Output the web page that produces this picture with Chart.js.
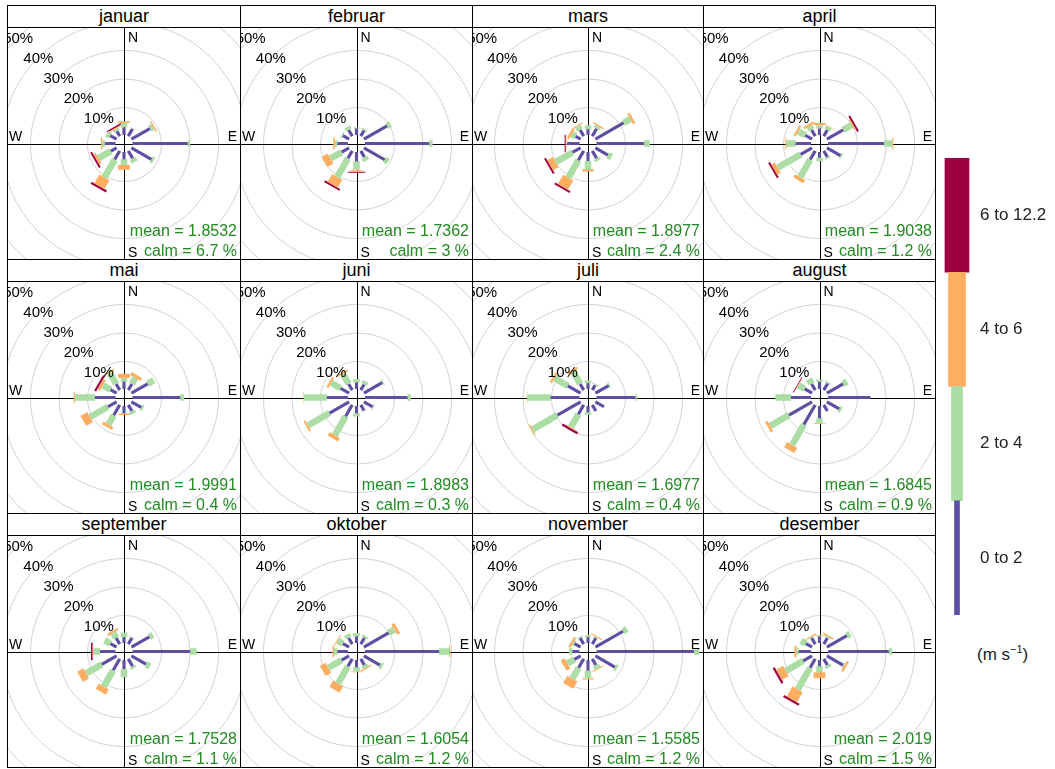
<!DOCTYPE html>
<html>
<head>
<meta charset="utf-8">
<script src="https://cdn.jsdelivr.net/npm/chart.js@4.4.1/dist/chart.umd.min.js"></script>
<style>
  body { margin: 0; background: #fff; font-family: "Liberation Sans", Arial, sans-serif; }
  #page { position: relative; width: 1055px; height: 769px; overflow: hidden; }
  .panel { position: absolute; box-sizing: border-box; border: 1px solid #000; }
  .strip { position: absolute; left: 0; right: 0; top: 0; height: 21px; border-bottom: 1px solid #000;
           text-align: center; font-size: 18px; line-height: 21px; color: #000; }
  .panel canvas { position: absolute; left: 0; top: 22px; }
  #key { position: absolute; left: 940px; top: 158px; }
  #unit { position: absolute; left: 977px; top: 643px; font-size: 17px; color: #222; }
</style>
</head>
<body>
<div id="page"></div>
<script>
// months shown in the panels
const months = ['januar', 'februar', 'mars', 'april', 'mai', 'juni',
                'juli', 'august', 'september', 'oktober', 'november', 'desember'];
// wind direction bins (degrees)
const directions = [0, 30, 60, 90, 120, 150, 180, 210, 240, 270, 300, 330];
// wind speed intervals (m/s)
const speedBins = ['0 to 2', '2 to 4', '4 to 6', '6 to 12.2'];
const binColours = ['#5e4fa2', '#abdda4', '#fdae61', '#9e0142'];
// frequency rings (%)
const ringLevels = [10, 20, 30, 40, 50];
const meanSpeed = ['1.8532', '1.7362', '1.8977', '1.9038', '1.9991', '1.8983',
                   '1.6977', '1.6845', '1.7528', '1.6054', '1.5585', '2.019'];
const calmPct = ['6.7', '3', '2.4', '1.2', '0.4', '0.3', '0.4', '0.9', '1.1', '1.2', '1.2', '1.5'];

// cumulative frequency (%) per direction, stacked over the speed bins
const januar = [[2.6,4.2,4.8,4.8],[2.9,3.1,3.1,3.1],[7.5,8.7,9.2,9.2],[19.4,20.2,20.2,20.2],
  [8.1,9.0,9.0,9.0],[3.0,4.5,4.5,4.5],[2.5,4.5,6.2,6.2],[3.5,10.7,14.3,15.1],
  [2.3,7.3,8.2,8.9],[3.7,4.6,5.1,5.1],[2.6,3.9,3.9,3.9],[2.0,2.8,3.2,3.8]];
const februar = [[2.3,2.6,2.6,2.6],[2.3,2.8,2.8,2.8],[9.4,10.8,10.8,10.8],[22.5,23.7,23.7,23.7],
  [8.4,9.8,9.8,9.8],[2.5,3.9,3.9,3.9],[3.3,6.4,6.9,7.3],[3.0,10.5,13.7,14.4],
  [3.0,7.5,10.0,10.0],[3.7,4.6,5.2,5.2],[2.5,3.0,3.0,3.0],[2.5,3.6,3.6,3.6]];
const mars = [[2.0,3.4,3.4,3.4],[3.0,4.0,4.5,4.5],[11.4,14.1,15.0,15.0],[16.7,18.7,18.7,18.7],
  [5.1,6.5,6.5,6.5],[3.0,3.9,3.9,3.9],[3.1,6.0,6.8,6.8],[3.8,10.8,14.6,15.3],
  [3.3,10.1,12.3,13.0],[4.3,4.5,4.8,5.2],[2.0,3.5,4.4,4.4],[2.5,4.0,4.4,4.4]];
const april = [[2.3,3.5,4.2,4.2],[2.5,3.7,3.9,3.9],[6.6,10.0,10.5,11.2],[19.6,22.5,22.9,22.9],
  [5.5,6.0,6.0,6.0],[2.5,3.0,3.0,3.0],[2.0,3.2,3.2,3.2],[3.5,10.6,11.9,11.9],
  [4.6,13.9,15.3,16.0],[5.4,8.6,9.0,9.0],[2.8,5.5,6.3,6.3],[2.5,4.0,4.8,4.8]];
const mai = [[2.5,3.8,5.3,5.3],[2.5,4.9,6.1,6.1],[6.6,9.1,9.1,9.1],[16.7,18.1,18.1,18.1],
  [4.0,4.7,4.7,4.7],[2.5,3.5,3.5,3.5],[2.5,2.7,3.1,3.1],[4.2,7.9,9.0,9.0],
  [3.5,10.7,13.5,13.5],[7.2,14.2,14.6,14.6],[2.5,5.5,6.5,7.3],[2.5,7.0,7.5,7.5]];
const juni = [[2.3,3.5,3.5,3.5],[2.3,3.5,3.5,3.5],[7.4,7.9,7.9,7.9],[14.9,16.1,16.1,16.1],
  [3.5,3.9,3.9,3.9],[2.3,2.5,2.5,2.5],[2.5,3.7,3.7,3.7],[4.6,12.2,13.6,13.6],
  [7.9,16.6,17.3,17.3],[7.4,15.4,15.6,15.6],[3.5,7.2,8.0,8.0],[2.5,6.5,7.2,7.2]];
const juli = [[2.0,3.0,3.0,3.0],[2.0,2.4,2.4,2.4],[5.4,5.8,5.8,5.8],[13.7,14.3,14.3,14.3],
  [3.5,3.5,3.5,3.5],[2.5,2.5,2.5,2.5],[2.2,3.1,3.1,3.1],[3.8,9.0,9.3,10.1],
  [9.4,19.4,19.9,19.9],[10.1,18.3,18.5,18.5],[5.2,10.5,11.3,11.3],[2.5,7.5,8.3,8.3]];
const august = [[2.5,3.3,3.3,3.3],[2.7,3.2,3.2,3.2],[6.6,8.1,8.1,8.1],[14.9,14.9,14.9,14.9],
  [5.0,5.8,5.8,5.8],[2.5,2.5,2.5,2.5],[4.3,6.0,6.3,6.3],[8.0,16.2,18.3,18.3],
  [9.4,16.9,17.9,17.9],[7.0,12.5,12.5,12.5],[3.0,5.5,5.7,6.0],[2.5,4.5,4.5,4.5]];
const september = [[2.0,3.6,3.6,3.6],[2.5,2.8,2.8,2.8],[7.3,8.7,8.7,8.7],[20.2,22.5,22.5,22.5],
  [5.9,7.5,7.5,7.5],[3.0,3.8,3.8,3.8],[3.1,6.0,6.0,6.0],[4.6,11.2,13.3,13.3],
  [6.0,12.3,14.8,14.8],[5.4,7.8,8.0,8.6],[2.5,4.8,4.8,4.8],[2.5,4.5,5.3,5.3]];
const oktober = [[2.3,3.5,3.5,3.5],[2.5,3.3,3.3,3.3],[10.0,12.3,13.5,13.5],[26.0,29.5,29.9,29.9],
  [6.5,7.5,7.5,7.5],[2.5,3.5,4.0,4.0],[2.5,4.0,4.3,4.3],[3.0,9.9,12.5,12.5],
  [3.0,8.4,10.7,10.7],[3.7,4.9,5.4,5.4],[2.5,4.5,4.9,4.9],[2.5,3.8,3.8,3.8]];
const november = [[2.0,2.7,2.7,2.7],[2.5,2.8,3.2,3.2],[11.2,12.8,12.8,12.8],[34.2,36.0,36.0,36.0],
  [7.9,8.8,8.8,8.8],[2.5,3.8,4.2,4.2],[3.7,6.4,6.8,6.8],[3.6,8.0,10.9,10.9],
  [2.5,5.3,6.9,6.9],[2.5,3.7,3.9,3.9],[2.5,3.0,3.8,3.8],[2.5,2.9,2.9,2.9]];
const desember = [[2.3,2.6,2.9,2.9],[2.5,3.0,3.5,3.5],[8.1,9.4,9.4,9.4],[21.3,22.5,22.5,22.5],
  [6.5,7.0,7.8,7.8],[2.5,3.5,3.5,3.5],[2.2,4.3,6.4,6.4],[3.6,12.3,16.4,17.2],
  [3.6,10.6,13.4,14.2],[4.3,5.1,5.8,5.8],[2.5,4.5,4.5,4.5],[2.5,2.8,3.2,3.2]];

const roses = [januar, februar, mars, april, mai, juni, juli, august, september, oktober, november, desember];

// layout
const OFFSET = 3;            // empty centre, in % units
const PX_PER_UNIT = 2.85;
const paddleHalf = [0.55, 1.15, 2.05, 3.1];
const colLeft = [7, 240, 472, 703, 935];
const rowTop = [5, 259, 513, 767];
const FONT = '"Liberation Sans", Arial, sans-serif';

function paddle(dir, r0, r1, hw) {
  const t = dir * Math.PI / 180, s = Math.sin(t), c = Math.cos(t);
  const a = r0 + OFFSET, b = r1 + OFFSET;
  const p1 = {x: a * s - hw * c, y: a * c + hw * s};
  return [
    p1,
    {x: a * s + hw * c, y: a * c - hw * s},
    {x: b * s + hw * c, y: b * c - hw * s},
    {x: b * s - hw * c, y: b * c + hw * s},
    {x: p1.x, y: p1.y}
  ];
}

function roseDecor(i) {
  return {
    id: 'roseDecor' + i,
    beforeDatasetsDraw(chart) {
      const {ctx, chartArea: a, scales: {x, y}} = chart;
      const cx = Math.round(x.getPixelForValue(0)) + 0.5;
      const cy = Math.round(y.getPixelForValue(0)) + 0.5;
      ctx.save();
      ctx.beginPath();
      ctx.rect(a.left, a.top, a.width, a.height);
      ctx.clip();
      ctx.strokeStyle = '#d2d2d2';
      ctx.lineWidth = 1;
      ringLevels.forEach(p => {
        const r = x.getPixelForValue(OFFSET + p) - x.getPixelForValue(0);
        ctx.beginPath();
        ctx.arc(cx, cy, r, 0, Math.PI * 2);
        ctx.stroke();
      });
      ctx.strokeStyle = '#000';
      ctx.beginPath();
      ctx.moveTo(a.left, cy); ctx.lineTo(a.right, cy);
      ctx.moveTo(cx, a.top); ctx.lineTo(cx, a.bottom);
      ctx.stroke();
      ctx.restore();
    },
    afterDatasetsDraw(chart) {
      const {ctx, chartArea: a, scales: {x, y}} = chart;
      const cx = x.getPixelForValue(0), cy = y.getPixelForValue(0);
      ctx.save();
      ctx.fillStyle = '#000';
      ctx.textBaseline = 'middle';
      ctx.font = '15px ' + FONT;
      ctx.textAlign = 'center';
      ringLevels.forEach(p => {
        const d = (OFFSET + p) * Math.SQRT1_2;
        ctx.fillText(p + '%', x.getPixelForValue(-d) + 1, y.getPixelForValue(d) + 2);
      });
      ctx.font = '14px ' + FONT;
      ctx.textAlign = 'left';
      ctx.fillText('N', cx + 4, a.top + 10);
      ctx.fillText('S', cx + 4, a.bottom - 6);
      ctx.fillText('W', a.left + 1, cy - 6);
      ctx.textAlign = 'right';
      ctx.fillText('E', a.right - 3, cy - 6);
      ctx.fillStyle = '#228b22';
      ctx.font = '16px ' + FONT;
      ctx.fillText('mean = ' + meanSpeed[i], a.right - 3, a.bottom - 27);
      ctx.fillText('calm = ' + calmPct[i] + ' %', a.right - 3, a.bottom - 7);
      ctx.restore();
    }
  };
}

const page = document.getElementById('page');

months.forEach((name, i) => {
  const r = Math.floor(i / 4), c = i % 4;
  const w = colLeft[c + 1] - colLeft[c] + 1;
  const h = rowTop[r + 1] - rowTop[r] + 1;
  const panel = document.createElement('div');
  panel.className = 'panel';
  panel.style.left = colLeft[c] + 'px';
  panel.style.top = rowTop[r] + 'px';
  panel.style.width = w + 'px';
  panel.style.height = h + 'px';
  const strip = document.createElement('div');
  strip.className = 'strip';
  strip.textContent = name;
  panel.appendChild(strip);
  const cw = w - 2, ch = h - 2 - 22;
  const canvas = document.createElement('canvas');
  canvas.width = cw; canvas.height = ch;
  canvas.style.width = cw + 'px'; canvas.style.height = ch + 'px';
  panel.appendChild(canvas);
  page.appendChild(panel);

  const datasets = [];
  roses[i].forEach((stack, k) => {
    let prev = 0;
    stack.forEach((cum, j) => {
      if (cum > prev) {
        datasets.push({
          data: paddle(directions[k], prev, cum, paddleHalf[j]),
          showLine: true,
          fill: 'shape',
          backgroundColor: binColours[j],
          borderColor: 'rgba(0,0,0,0)',
          borderWidth: 0,
          pointRadius: 0,
          tension: 0
        });
      }
      prev = Math.max(prev, cum);
    });
  });

  const xr = cw / 2 / PX_PER_UNIT, yr = ch / 2 / PX_PER_UNIT;
  new Chart(canvas, {
    type: 'scatter',
    data: { datasets },
    options: {
      responsive: false,
      animation: false,
      devicePixelRatio: 1,
      layout: { padding: 0 },
      events: [],
      plugins: { legend: { display: false }, tooltip: { enabled: false } },
      scales: {
        x: { type: 'linear', display: false, min: -xr, max: xr },
        y: { type: 'linear', display: false, min: -yr, max: yr }
      }
    },
    plugins: [roseDecor(i)]
  });
});

// colour key
const keyCanvas = document.createElement('canvas');
keyCanvas.id = 'key';
keyCanvas.width = 115; keyCanvas.height = 457;
keyCanvas.style.width = '115px'; keyCanvas.style.height = '457px';
page.appendChild(keyCanvas);
const keyWidths = [5, 11, 17, 24];
new Chart(keyCanvas, {
  type: 'bar',
  data: {
    labels: [''],
    datasets: speedBins.map((b, j) => ({
      label: b,
      data: [1],
      backgroundColor: binColours[j],
      barThickness: keyWidths[j]
    }))
  },
  options: {
    responsive: false,
    animation: false,
    devicePixelRatio: 1,
    events: [],
    layout: { padding: { left: 0, right: 81, top: 0, bottom: 0 } },
    plugins: { legend: { display: false }, tooltip: { enabled: false } },
    scales: {
      x: { display: false, stacked: true },
      y: { display: false, stacked: true, min: 0, max: 4 }
    }
  },
  plugins: [{
    id: 'keyLabels',
    afterDatasetsDraw(chart) {
      const {ctx, chartArea: a, scales: {y}} = chart;
      ctx.save();
      ctx.fillStyle = '#222';
      ctx.font = '17px ' + FONT;
      ctx.textAlign = 'left';
      ctx.textBaseline = 'middle';
      speedBins.forEach((b, j) => ctx.fillText(b, a.right + 6, y.getPixelForValue(j + 0.5)));
      ctx.restore();
    }
  }]
});

const unit = document.createElement('div');
unit.id = 'unit';
unit.innerHTML = '(m s<sup style="font-size:11px">\u22121</sup>)';
page.appendChild(unit);
</script>
</body>
</html>
